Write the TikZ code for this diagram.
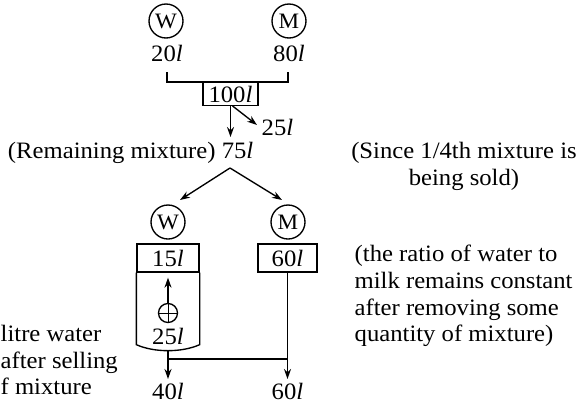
\documentclass[tikz,border=0pt]{standalone}
\usepackage{fontspec}
\setmainfont{Liberation Serif}[FakeStretch=1.05]
\usetikzlibrary{arrows.meta}
\begin{document}
\begin{tikzpicture}[x=1pt,y=-1pt,
  font=\fontsize{23.5}{26.5}\selectfont,
  line width=1.35pt,
  circ/.style={draw,circle,minimum size=34pt,inner sep=0pt,font=\fontsize{22}{24}\selectfont},
  valbox/.style={draw,minimum height=28pt,inner sep=0pt},
  lab/.style={inner sep=0pt},
  arr/.style={-{Stealth[length=10pt,width=7pt]}}]
\useasboundingbox (0,0) rectangle (581,405);
% top
\node[circ] (W1) at (166,21) {W};
\node[circ] (M1) at (289,21) {M};
\node[lab] (w20) at (167,53) {20\textit{l}};
\node[lab] (m80) at (289,53) {80\textit{l}};
\node[draw,minimum width=55pt,minimum height=22.5pt,inner sep=0pt] (b100) at (230.5,94) {100\textit{l}};
\coordinate (bkL) at (167,72);
\coordinate (bkR) at (288,72);
\draw (bkL) |- (b100.north) -| (bkR);
\coordinate (rem) at (230.5,137);
\coordinate (sold) at (257,125);
\draw[arr] (b100.south) -- (rem);
\draw[arr] ([xshift=2pt]b100.south) -- (sold);
\node[lab,anchor=west] (s25) at (261,127) {25\textit{l}};
\node[lab,anchor=east] (rem75) at (254,153) {(Remaining mixture) 75\textit{l}};
% split
\coordinate (apex) at (230,168);
\coordinate (tipL) at (180,200);
\coordinate (tipR) at (282,200);
\draw[arr] (apex) -- (tipL);
\draw[arr] (apex) -- (tipR);
\node[circ] (W2) at (168,222) {W};
\node[circ] (M2) at (288,222) {M};
\node[valbox,minimum width=62pt] (b15) at (168,258) {15\textit{l}};
\node[valbox,minimum width=59pt] (b60) at (287.5,258) {60\textit{l}};
% shield under 15l
\draw (b15.south west) -- ++(0,72) .. controls +(18,8) and +(-18,8) .. ([yshift=-72pt]b15.south east) -- (b15.south east);
\node[draw,circle,minimum size=19pt,inner sep=0pt] (plus) at (168,313) {};
\draw[line width=1pt] (plus.north) -- (plus.south) (plus.west) -- (plus.east);
\draw[arr] (plus.north) -- ([yshift=-5pt]b15.south);
\node[lab] (a25) at (168,336) {25\textit{l}};
% bottom
\coordinate (sb) at (168,350);
\coordinate (e40) at (168,379);
\coordinate (e60) at (287.5,379);
\coordinate (jL) at (168,359);
\coordinate (jR) at (287.5,359);
\draw[arr] (sb) -- (e40);
\draw[arr] (b60.south) -- (e60);
\draw (jL) -- (jR);
\node[lab] (t40) at (168,391.5) {40\textit{l}};
\node[lab] (t60) at (287.5,391.5) {60\textit{l}};
% side notes
\node[lab,align=center,font=\fontsize{23.5}{27}\selectfont] (since) at (464,166) {(Since 1/4th mixture is\\being sold)};
\node[lab,align=left,anchor=west,font=\fontsize{23.5}{26.7}\selectfont] (ratio) at (354,296) {(the ratio of water to\\milk remains constant\\after removing some\\quantity of mixture)};
\node[lab,align=left,anchor=west] (added) at (0,360) {litre water\\after selling\\f mixture};
\end{tikzpicture}
\end{document}
